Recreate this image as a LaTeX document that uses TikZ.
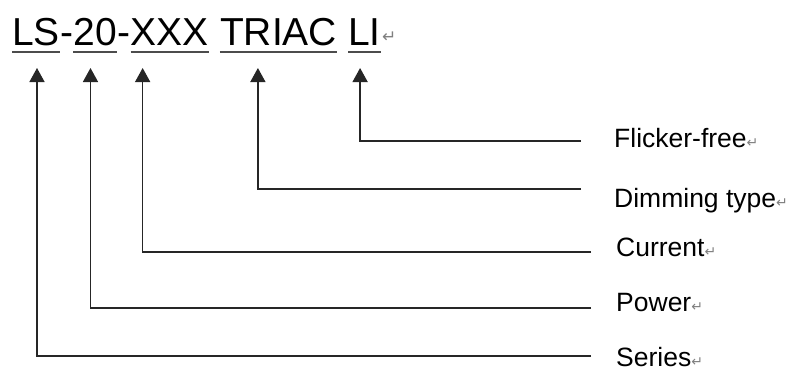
\documentclass[tikz,border=0pt]{standalone}
\usepackage{fontspec}
\setmainfont{Liberation Sans}
\newfontfamily\markfont{DejaVu Sans}
\usetikzlibrary{arrows.meta,positioning}

\tikzset{
  part/.style={inner sep=0pt, font=\fontsize{39}{39}\selectfont},
  field/.style={inner sep=0pt, anchor=base west, font=\fontsize{26.5}{26.5}\selectfont},
  uline/.style={line width=2pt, black!70},
  pointer/.style={line width=1.5pt, black!85, -{Triangle[length=14pt,width=15pt]}},
}
\newcommand{\pmark}[1]{{\markfont\fontsize{#1}{#1}\selectfont\color{black!50}↵}}

\begin{document}
\begin{tikzpicture}[x=1pt,y=-1pt]
\useasboundingbox (0,0) rectangle (792,373);

% type code
\node[part, anchor=base west] (ls) at (12,45) {LS};
\node[part, base right=0pt of ls] (dashA) {-};
\node[part, base right=0pt of dashA] (twenty) {20};
\node[part, base right=0pt of twenty] (dashB) {-};
\node[part, base right=0pt of dashB] (xxx) {XXX};
\node[part, base right=10.8pt of xxx] (triac) {TRIAC};
\node[part, base right=10.8pt of triac] (li) {LI};
\node[part, base right=1pt of li, yshift=3pt] (limark) {\pmark{17}};

\foreach \p in {ls,twenty,xxx,triac,li}
  \draw[uline] ([yshift=-7pt]\p.base west) -- ([yshift=-7pt]\p.base east);

% fields
\node[field] (flicker) at (614,147) {Flicker-free\pmark{14}};
\node[field] (dimming) at (614,207) {Dimming type\pmark{14}};
\node[field] (current) at (616,256) {Current\pmark{14}};
\node[field] (power) at (616,311) {Power\pmark{14}};
\node[field] (series) at (616,366) {Series\pmark{14}};

\coordinate (flickerEnd) at (581,141);
\coordinate (dimmingEnd) at (581,189);
\coordinate (currentEnd) at (591,252);
\coordinate (powerEnd) at (591,308);
\coordinate (seriesEnd) at (591,356);

\draw[pointer] (flickerEnd) -| ([xshift=12pt,yshift=-23pt]li.base west);
\draw[pointer] (dimmingEnd) -| ([xshift=38pt,yshift=-23pt]triac.base west);
\draw[pointer] (currentEnd) -| ([xshift=12pt,yshift=-23pt]xxx.base west);
\draw[pointer] (powerEnd) -| ([xshift=17pt,yshift=-23pt]twenty.base west);
\draw[pointer] (seriesEnd) -| ([xshift=25pt,yshift=-23pt]ls.base west);
\end{tikzpicture}
\end{document}
